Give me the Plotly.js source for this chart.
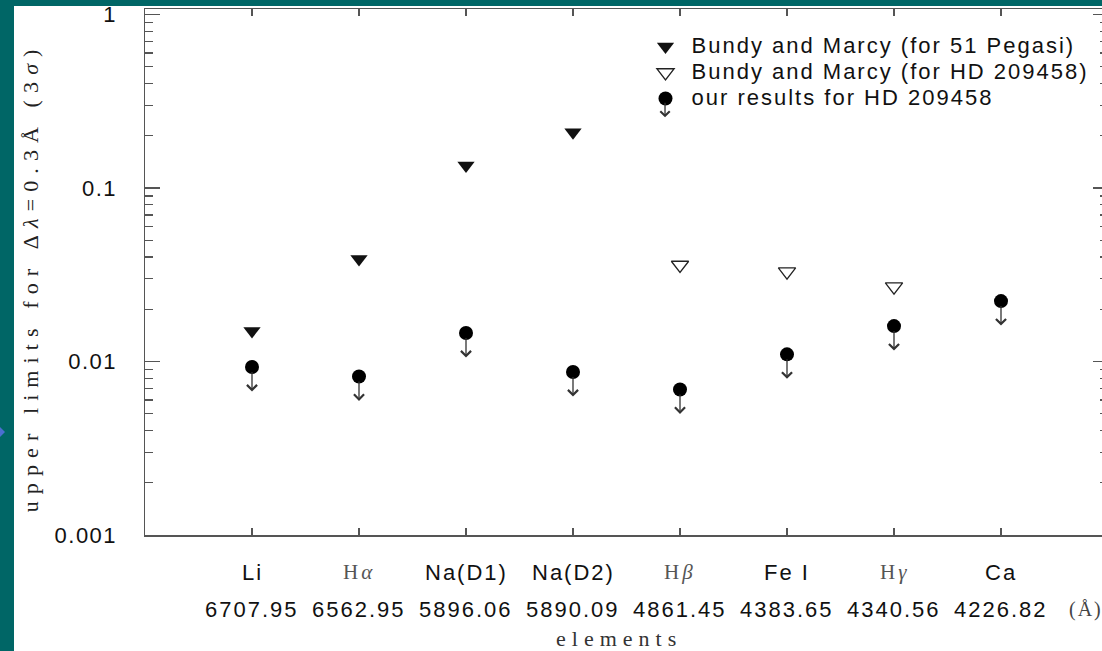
<!DOCTYPE html>
<html><head><meta charset="utf-8">
<script src="https://cdn.plot.ly/plotly-3.0.1.min.js"></script>
<style>
html,body{margin:0;padding:0;background:#006666;width:1102px;height:651px;overflow:hidden;}
#plot{position:absolute;left:14px;top:0px;width:1100px;height:651px;}
#topbar{position:absolute;left:0;top:0;width:1102px;height:6px;background:#006666;z-index:5;}
#nav{position:absolute;left:0;top:427px;width:0;height:0;border-top:5px solid transparent;border-bottom:5px solid transparent;border-left:5px solid #4a6fd0;}
.ytick text{letter-spacing:1.5px;}
.annotation-text{letter-spacing:2px;}
</style></head><body><div id="plot"></div><div id="topbar"></div><div id="nav"></div>
<script>
// ---- data ----
const categories = ['Li','Hα','Na(D1)','Na(D2)','Hβ','Fe I','Hγ','Ca'];
const wavelengths = ['6707.95','6562.95','5896.06','5890.09','4861.45','4383.65','4340.56','4226.82'];
const pegasiCats = ['Li','Hα','Na(D1)','Na(D2)'];
const pegasiVals = [0.015, 0.039, 0.135, 0.21];
const hdCats = ['Hβ','Fe I','Hγ'];
const hdVals = [0.036, 0.033, 0.027];
const oursCats = ['Li','Hα','Na(D1)','Na(D2)','Hβ','Fe I','Hγ','Ca'];
const oursVals = [0.0093, 0.0082, 0.0146, 0.0087, 0.0069, 0.0110, 0.0160, 0.0223];
const yTickVals = [0.001, 0.01, 0.1, 1];
const yTickText = ['0.001', '0.01', '0.1', '1'];
const legendNames = ['Bundy and Marcy (for 51 Pegasi)', 'Bundy and Marcy (for HD 209458)', 'our results for HD 209458'];

const SANS = 'Liberation Sans, Arial, sans-serif';
const SERIF = 'Liberation Serif, Times New Roman, serif';
const AX = '#555';
const legendLabel = s => '<span style="font-size:22px;letter-spacing:2px">' + s + '</span>';

const traces = [
  {x: pegasiCats, y: pegasiVals, type: 'scatter', mode: 'markers', name: legendLabel(legendNames[0]),
   marker: {symbol: 'triangle-down', size: 15, color: '#111', line: {width: 0}}},
  {x: hdCats, y: hdVals, type: 'scatter', mode: 'markers', name: legendLabel(legendNames[1]),
   marker: {symbol: 'triangle-down-open', size: 15, color: '#222', line: {width: 1.3, color: '#222'}}},
  {x: oursCats, y: oursVals, type: 'scatter', mode: 'markers', name: legendLabel(legendNames[2]),
   marker: {symbol: 'circle', size: 14, color: '#000', line: {width: 0}}}
];

const isGreek = s => /[α-ω]/.test(s);
const annotations = [];
categories.forEach((c, i) => {
  const g = isGreek(c);
  annotations.push({
    x: c, y: 0, xref: 'x', yref: 'paper', yanchor: 'middle', yshift: -37, showarrow: false,
    text: g ? '<span style="letter-spacing:3px">' + c.replace(/([α-ω])/, '<i>$1</i>') + '</span>' : c,
    font: g ? {family: SERIF, size: 21, color: '#555'} : {family: SANS, size: 22, color: '#111'}
  });
  annotations.push({
    x: c, y: 0, xref: 'x', yref: 'paper', yanchor: 'middle', yshift: -74, showarrow: false,
    text: wavelengths[i], font: {family: SANS, size: 22, color: '#111'}
  });
});
annotations.push({x: 0.997, y: 0, xref: 'paper', yref: 'paper', yanchor: 'middle', yshift: -74, showarrow: false,
  text: '(Å)', font: {family: SERIF, size: 20, color: '#444'}});
annotations.push({x: 0.492, y: 0, xref: 'paper', yref: 'paper', yanchor: 'middle', yshift: -103, showarrow: false,
  text: '<span style="letter-spacing:6px">elements</span>', font: {family: SERIF, size: 22, color: '#333'}});
annotations.push({x: 0, y: 0.49, xref: 'paper', yref: 'paper', xanchor: 'center', yanchor: 'middle', xshift: -115,
  textangle: -90, showarrow: false,
  text: '<span style="letter-spacing:7.1px">upper limits for Δ<i>λ</i>=0.3Å (3<i>σ</i>)</span>',
  font: {family: SERIF, size: 22, color: '#222'}});
oursCats.forEach((c, i) => {
  annotations.push({x: c, y: Math.log10(oursVals[i]), xref: 'x', yref: 'y', text: '', showarrow: true,
    ax: 0, ay: 26, arrowside: 'start', startarrowhead: 4, arrowhead: 4, startarrowsize: 1.5, arrowsize: 1.5,
    arrowwidth: 1.3, arrowcolor: '#333', standoff: 5, startstandoff: 0});
});
// arrow belonging to the third legend symbol
annotations.push({x: 0.540, y: 0.833, xref: 'paper', yref: 'paper', text: '', showarrow: true,
  ax: 0, ay: 22, arrowside: 'start', startarrowhead: 4, arrowhead: 4, startarrowsize: 1.4, arrowsize: 1.4,
  arrowwidth: 1.3, arrowcolor: '#333', standoff: 6, startstandoff: 0});

const layout = {
  width: 1100, height: 651,
  margin: {l: 131, r: 6, t: 9, b: 116},
  paper_bgcolor: '#fff', plot_bgcolor: '#fff',
  showlegend: true,
  legend: {x: 0.5135, y: 0.963, xanchor: 'left', yanchor: 'top', bgcolor: 'rgba(0,0,0,0)',
    font: {family: SANS, size: 17.7, color: '#111'}, itemwidth: 42},
  xaxis: {type: 'category', categoryorder: 'array', categoryarray: categories, range: [-1, 8],
    showline: true, linecolor: AX, linewidth: 1.5, mirror: 'ticks', ticks: 'inside', ticklen: 7,
    tickcolor: AX, tickwidth: 1.2, showticklabels: false, showgrid: false, zeroline: false, fixedrange: true},
  yaxis: {type: 'log', range: [-3, 0.032], showline: true, linecolor: AX, linewidth: 1.5, mirror: 'ticks',
    ticks: 'inside', ticklen: 15, tickcolor: AX, tickwidth: 1.2, tickvals: yTickVals, ticktext: yTickText,
    tickfont: {family: SANS, size: 22, color: '#111'}, ticklabelstandoff: 22, ticklabeloverflow: 'allow',
    minor: {ticks: 'inside', ticklen: 8, dtick: 'D1', tickcolor: AX, tickwidth: 1.2, showgrid: false},
    showgrid: false, zeroline: false, fixedrange: true},
  annotations: annotations
};

Plotly.newPlot('plot', traces, layout, {displayModeBar: false, staticPlot: true});
</script></body></html>
